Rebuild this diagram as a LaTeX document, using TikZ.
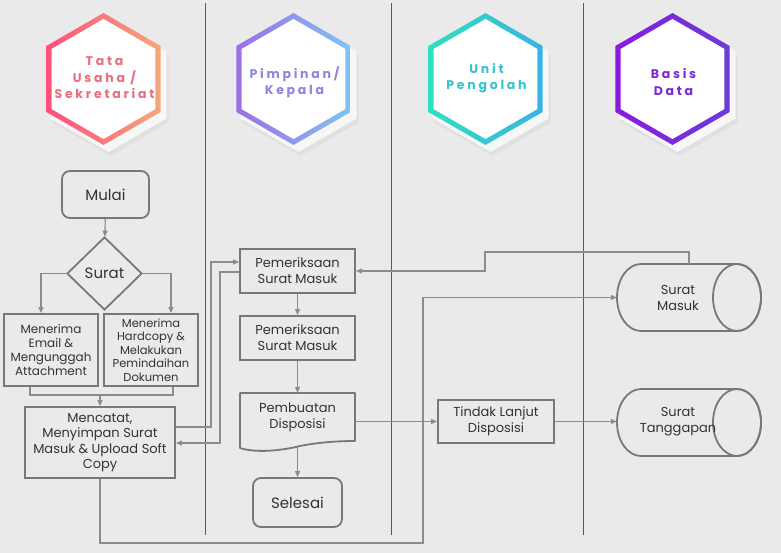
\documentclass[tikz,border=0pt]{standalone}
\usepackage{fontspec}
\setmainfont{Poppins}
\usetikzlibrary{shapes.geometric,arrows.meta,calc}
\definecolor{bg}{HTML}{EAEAEA}
\definecolor{lane}{HTML}{5A5A5A}
\definecolor{nline}{HTML}{787878}
\definecolor{cline}{HTML}{8C8C8C}
\definecolor{txt}{HTML}{333333}
\definecolor{aL}{HTML}{FF4F7B}\definecolor{aR}{HTML}{F3A87A}\definecolor{aT}{HTML}{EA6E7B}
\definecolor{bL}{HTML}{9C6FE6}\definecolor{bR}{HTML}{7EC4F3}\definecolor{bT}{HTML}{8C86DF}
\definecolor{cL}{HTML}{2EE0C0}\definecolor{cR}{HTML}{3AB2E2}\definecolor{cT}{HTML}{36C2CC}
\definecolor{dL}{HTML}{8A1ADE}\definecolor{dR}{HTML}{6A3DD6}\definecolor{dT}{HTML}{7B27D9}
\tikzset{
  hexbase/.style={regular polygon, regular polygon sides=6, shape border rotate=30, inner sep=0pt, draw=none},
  hexo/.style={hexbase, minimum size=132pt},
  hexi/.style={hexbase, minimum size=120pt, fill=white},
  hexsh/.style={hexbase, minimum size=134pt},
  hextxt/.style={align=center, font=\fontsize{12.5}{16.5}\selectfont\bfseries\addfontfeature{LetterSpace=22}},
  box/.style={draw=nline, line width=1.8pt, fill=bg, align=center, inner sep=1pt, text=txt},
  rbox/.style={box, rounded corners=8pt},
  conn/.style={draw=cline, line width=1.2pt},
  arr/.style={conn, -{Triangle[length=6pt,width=5pt]}},
  lanel/.style={draw=lane, line width=1pt},
}
\begin{document}
\begin{tikzpicture}[x=1pt,y=-1pt]
\useasboundingbox (0,0) rectangle (781,553);
\fill[bg] (0,0) rectangle (781,553);
% lanes
\draw[lanel] (205,3) -- (205,535);
\draw[lanel] (391.5,3) -- (391.5,535);
\draw[lanel] (583,3) -- (583,535);
% hexagons
\foreach \cx/\L/\R/\nm in {103.5/aL/aR/h1, 293.5/bL/bR/h2, 485.5/cL/cR/h3, 672.5/dL/dR/h4}{
  \node[hexsh, fill=black!12] (\nm s2) at (\cx+7,89) {};
  \node[hexsh, fill=white!60!bg] (\nm s1) at (\cx+5,85) {};
  \node[hexo, left color=\L, right color=\R] (\nm o) at (\cx,79) {};
  \node[hexi] (\nm i) at (\cx,79) {};
}
\node[hextxt, text=aT] (t1) at (104.5,78) {Tata\\Usaha /\\Sekretariat};
\node[hextxt, text=bT] (t2) at (294.5,82) {Pimpinan/\\Kepala};
\node[hextxt, text=cT] (t3) at (486.5,78) {Unit\\Pengolah};
\node[hextxt, text=dT] (t4) at (673.5,82) {Basis\\Data};
% nodes
\node[rbox, minimum width=87pt, minimum height=47pt, font=\fontsize{15}{18}\selectfont] (mulai) at (105.5,194.5) {Mulai};
\node[box, diamond, minimum width=75pt, minimum height=73pt, inner sep=0pt, font=\fontsize{15}{18}\selectfont] (surat) at (104.5,273.5) {Surat};
\node[box, minimum width=94pt, minimum height=72pt, font=\fontsize{12}{14}\selectfont] (email) at (51,350) {Menerima\\Email \&\\Mengunggah\\Attachment};
\node[box, minimum width=94pt, minimum height=72pt, font=\fontsize{11.5}{13.5}\selectfont] (hard) at (151,350) {Menerima\\Hardcopy \&\\Melakukan\\Pemindaihan\\Dokumen};
\node[box, minimum width=150pt, minimum height=71pt, font=\fontsize{13}{15.5}\selectfont] (mencatat) at (100,442.5) {Mencatat,\\Menyimpan Surat\\Masuk \& Upload Soft\\Copy};
\node[box, minimum width=115pt, minimum height=44pt, font=\fontsize{13}{16}\selectfont] (p1) at (297.5,271) {Pemeriksaan\\Surat Masuk};
\node[box, minimum width=115pt, minimum height=44pt, font=\fontsize{13}{16}\selectfont] (p2) at (297.5,338) {Pemeriksaan\\Surat Masuk};
\node[minimum width=115pt, minimum height=53pt, inner sep=0pt] (pd) at (297.5,419.5) {};
\draw[draw=nline, line width=1.8pt, fill=bg, line join=round]
  (240,393) -- (355,393) -- (355,441) .. controls (340,441) and (320,442) .. (300,446)
  .. controls (280,451) and (255,453) .. (240,448) -- cycle;
\node[align=center, text=txt, font=\fontsize{13}{16}\selectfont] (pdt) at (297.5,417) {Pembuatan\\Disposisi};
\node[rbox, minimum width=89pt, minimum height=49pt, font=\fontsize{15}{18}\selectfont] (selesai) at (297.5,502.5) {Selesai};
\node[box, minimum width=116pt, minimum height=43pt, font=\fontsize{13}{16}\selectfont] (tl) at (496,421.5) {Tindak Lanjut\\Disposisi};
% cylinders
\node[minimum width=144pt, minimum height=67pt, inner sep=0pt] (sm) at (689,297.5) {};
\draw[draw=nline, line width=1.8pt, fill=bg] (641,264) -- (737,264) arc (90:-90:24pt and 33.5pt) -- (641,331) arc (270:90:24pt and 33.5pt) -- cycle;
\draw[draw=nline, line width=1.8pt] (737,297.5) ellipse (24pt and 33.5pt);
\node[align=center, text=txt, font=\fontsize{13}{16}\selectfont] (smt) at (678,298) {Surat\\Masuk};
\node[minimum width=144pt, minimum height=67pt, inner sep=0pt] (st) at (689,422.5) {};
\draw[draw=nline, line width=1.8pt, fill=bg] (641,389) -- (737,389) arc (90:-90:24pt and 33.5pt) -- (641,456) arc (270:90:24pt and 33.5pt) -- cycle;
\draw[draw=nline, line width=1.8pt] (737,422.5) ellipse (24pt and 33.5pt);
\node[align=center, text=txt, font=\fontsize{13}{16}\selectfont] (stt) at (678,422) {Surat\\Tanggapan};
% connectors
\draw[arr] (mulai) -- (surat);
\coordinate (eL) at (41,273.5);
\coordinate (hR) at (171,273.5);
\draw[arr] (surat.west) -- (eL) -- (eL |- email.north);
\draw[arr] (surat.east) -- (hR) -- (hR |- hard.north);
\coordinate (m1) at (30,395);
\coordinate (m2) at (173,395);
\coordinate (m3) at (100,395);
\draw[conn] (m1 |- email.south) -- (m1) -- (m2) -- (m2 |- hard.south);
\draw[arr] (m3) -- (mencatat.north);
\coordinate (a1) at (211,427);
\coordinate (a2) at (211,262);
\draw[arr] (a1 -| mencatat.east) -- (a1) -- (a2) -- (a2 -| p1.west);
\coordinate (b1) at (220,272);
\coordinate (b2) at (220,443);
\draw[arr] (b1 -| p1.west) -- (b1) -- (b2) -- (b2 -| mencatat.east);
\draw[arr] (p1) -- (p2);
\draw[arr] (p2) -- (pd);
\draw[arr] (pd.south) -- (selesai.north);
\draw[arr] (pd.east |- tl.west) -- (tl.west);
\draw[arr] (tl.east) -- (tl.east -| st.west);
\coordinate (c1) at (423,543);
\draw[arr] (mencatat.south) |- (c1) |- (sm.west);
\coordinate (d1) at (485,252);
\draw[arr] (sm.north) |- (d1) |- (p1.east);
\end{tikzpicture}
\end{document}
